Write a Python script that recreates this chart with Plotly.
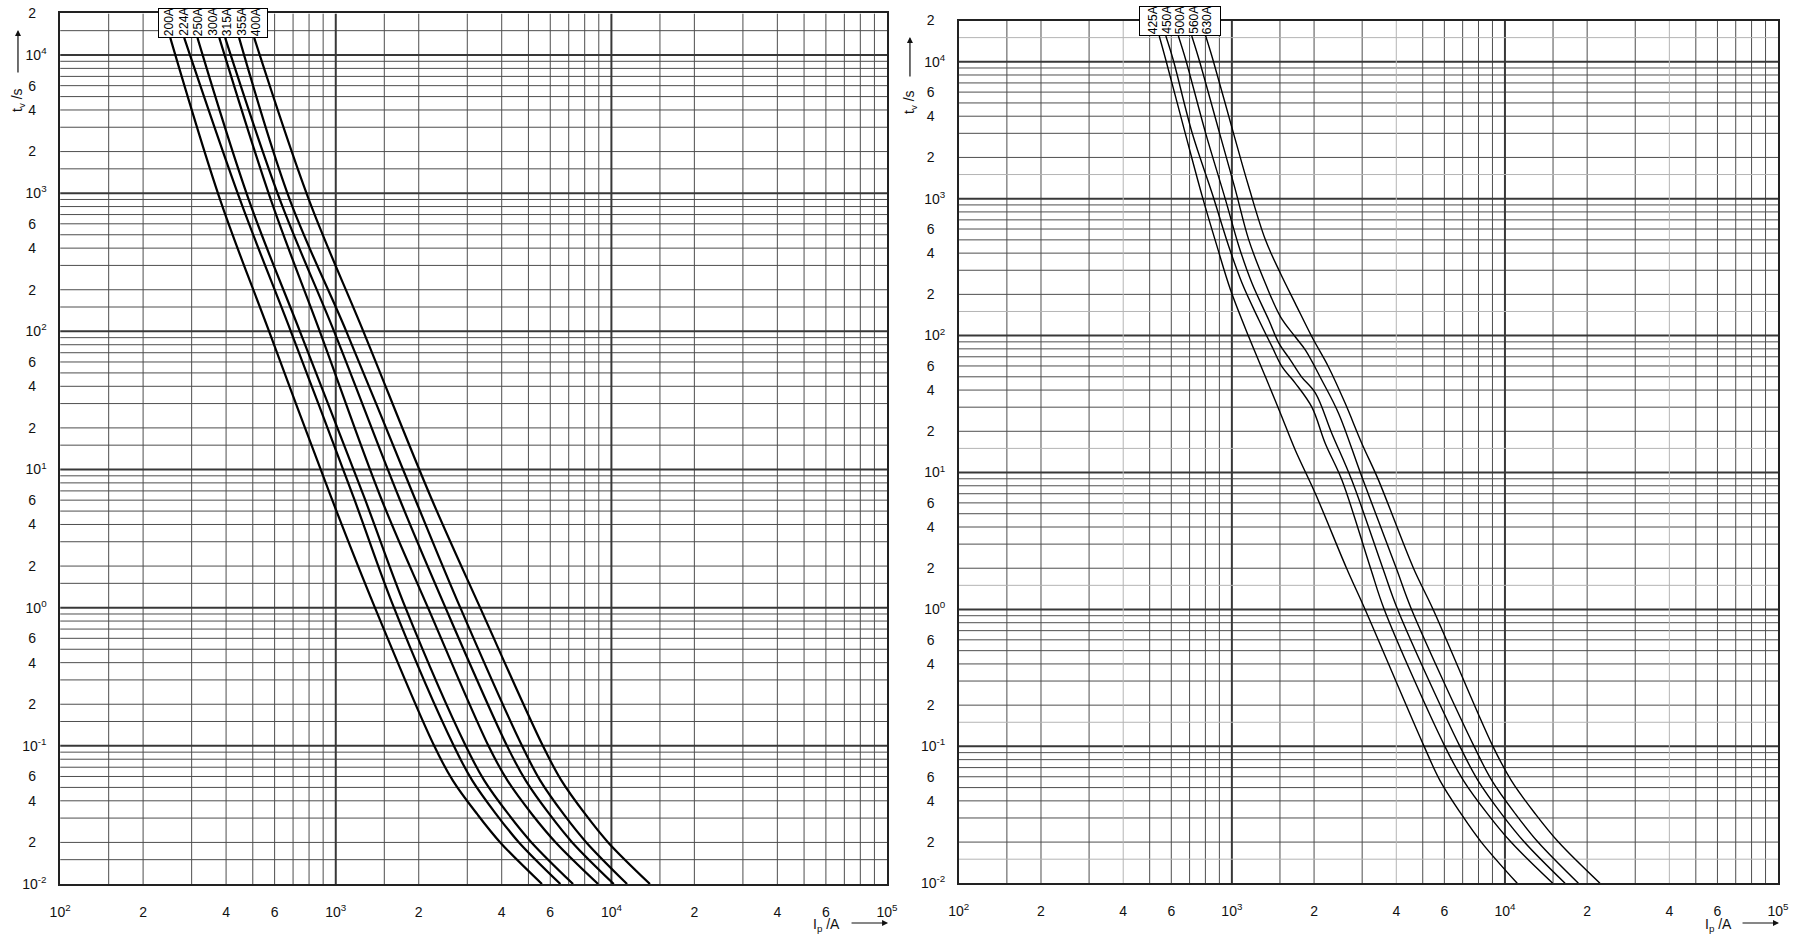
import numpy as np
import plotly.graph_objects as go

# ---------------- data ----------------
# Left chart: fuse ratings and time-current characteristics (I in A, t in s)
left_ratings = ["200A", "224A", "250A", "300A", "315A", "355A", "400A"]
left_t = [13300, 890, 100, 6.3, 1.0, 0.1, 0.056, 0.032, 0.02, 0.01]
left_I_200 = [251, 381, 573, 962, 1387, 2275, 2660, 3260, 3950, 5600]
left_I_224 = [282, 450, 687, 1160, 1626, 2680, 3130, 3820, 4620, 6530]
left_I_250 = [315, 484, 741, 1268, 1790, 2960, 3460, 4230, 5130, 7260]
left_I_300 = [378, 582, 875, 1455, 2160, 3580, 4200, 5150, 6280, 8950]
left_I_315 = [397, 628, 986, 1694, 2500, 4180, 4890, 5960, 7210, 10200]
left_I_355 = [446, 682, 1092, 1928, 2830, 4740, 5520, 6710, 8110, 11400]
left_I_400 = [506, 800, 1259, 2213, 3340, 5640, 6590, 8040, 9730, 13800]

# Right chart
right_ratings = ["425A", "450A", "500A", "560A", "630A"]
right_t_425 = [15400, 10300, 3000, 1030, 446, 215, 98, 50, 27, 14.6, 7.0, 2.0, 1.0, 0.1, 0.056, 0.032, 0.02, 0.01]
right_I_425 = [542, 573, 675, 780, 883, 989, 1153, 1327, 1507, 1706, 2023, 2630, 3076, 5058, 5790, 6920, 8190, 11090]
right_t_450 = [15400, 10300, 3000, 1090, 446, 240, 130, 83, 59, 45, 30, 16.3, 8.8, 2.0, 1.0, 0.1, 0.056, 0.032, 0.02, 0.01]
right_I_450 = [573, 610, 716, 847, 975, 1091, 1256, 1403, 1528, 1706, 1963, 2198, 2529, 3220, 3614, 6026, 7060, 8650, 10520, 14960]
right_t_500 = [15400, 10300, 3000, 980, 446, 240, 130, 88, 66, 50, 38, 19.3, 8.8, 2.0, 1.0, 0.1, 0.056, 0.032, 0.02, 0.01]
right_I_500 = [637, 678, 802, 948, 1062, 1186, 1365, 1486, 1641, 1799, 2023, 2323, 2748, 3570, 4046, 6839, 7980, 9730, 11780, 16600]
right_t_560 = [15400, 10300, 3000, 1160, 500, 240, 137, 98, 78, 47, 27, 9.3, 2.0, 1.0, 0.1, 0.056, 0.032, 0.02, 0.01]
right_I_560 = [713, 759, 902, 1030, 1153, 1327, 1507, 1706, 1862, 2138, 2460, 2992, 4000, 4550, 7709, 8970, 10940, 13210, 18580]
right_t_630 = [15400, 10300, 3000, 1220, 500, 284, 172, 98, 59, 32, 16.3, 8.8, 2.0, 1.0, 0.1, 0.056, 0.032, 0.02, 0.01]
right_I_630 = [802, 853, 1014, 1153, 1327, 1507, 1706, 1963, 2259, 2600, 2992, 3443, 4624, 5458, 9036, 10570, 12940, 15700, 22280]

# Tick labels
x_tick_vals = [100, 200, 400, 600, 1000, 2000, 4000, 6000, 10000, 20000, 40000, 60000, 100000]
x_tick_text = ["10<sup>2</sup>", "2", "4", "6", "10<sup>3</sup>", "2", "4", "6",
               "10<sup>4</sup>", "2", "4", "6", "10<sup>5</sup>"]
y_tick_vals = [0.01, 0.02, 0.04, 0.06, 0.1, 0.2, 0.4, 0.6, 1, 2, 4, 6, 10, 20, 40, 60,
               100, 200, 400, 600, 1000, 2000, 4000, 6000, 10000, 20000]
y_tick_text = ["10<sup>-2</sup>", "2", "4", "6", "10<sup>-1</sup>", "2", "4", "6",
               "10<sup>0</sup>", "2", "4", "6", "10<sup>1</sup>", "2", "4", "6",
               "10<sup>2</sup>", "2", "4", "6", "10<sup>3</sup>", "2", "4", "6",
               "10<sup>4</sup>", "2"]
grid_mantissas = [1, 1.5, 2, 3, 4, 5, 6, 7, 8, 9]

x_range = [100, 100000]
y_range = [0.01, 20000]

left_I = [left_I_200, left_I_224, left_I_250, left_I_300, left_I_315, left_I_355, left_I_400]
right_t = [right_t_425, right_t_450, right_t_500, right_t_560, right_t_630]
right_I = [right_I_425, right_I_450, right_I_500, right_I_560, right_I_630]

# ---------------- figure ----------------
# The photograph shows the window inside an 8px border, so window positions are
# mapped into the inner (W-16) x (H-16) area.
W, H, M = 1797, 939, 8
FONT = "Liberation Sans, Arial, DejaVu Sans, sans-serif"
fig = go.Figure()


def px(x):
    return (x - M) / (W - 2 * M)


def py(y):
    return 1 - (y - M) / (H - 2 * M)


def grid_values(lo, hi):
    vals = []
    e = int(np.floor(np.log10(lo)))
    while 10 ** e <= hi:
        for m in grid_mantissas:
            v = m * 10 ** e
            if lo < v < hi:
                vals.append(v)
        e += 1
    return vals


def add_grid(xa, ya, light_x_mant=(), light_y_mant=()):
    groups = {"normal": ([], []), "decade": ([], []), "light": ([], [])}

    def mant(v):
        return round(v / 10 ** np.floor(np.log10(v) + 1e-9), 3)

    for v in grid_values(*x_range):
        m = mant(v)
        g = "decade" if m == 1 else ("light" if m in light_x_mant else "normal")
        groups[g][0].extend([v, v, None])
        groups[g][1].extend([y_range[0], y_range[1], None])
    for v in grid_values(*y_range):
        m = mant(v)
        g = "decade" if m == 1 else ("light" if m in light_y_mant else "normal")
        groups[g][0].extend([x_range[0], x_range[1], None])
        groups[g][1].extend([v, v, None])
    styles = {"normal": ("#4e4e4e", 1), "decade": ("#383838", 2), "light": ("#b4b4b4", 1)}
    for g, (xs, ys) in groups.items():
        if not xs:
            continue
        c, w = styles[g]
        fig.add_trace(go.Scatter(x=xs, y=ys, mode="lines", xaxis=xa, yaxis=ya,
                                 line=dict(color=c, width=w), hoverinfo="skip",
                                 showlegend=False))


add_grid("x", "y")
add_grid("x2", "y2", light_x_mant=(4,), light_y_mant=(1.5,))

for name, Is in zip(left_ratings, left_I):
    fig.add_trace(go.Scatter(x=Is, y=left_t, mode="lines", name=name, xaxis="x", yaxis="y",
                             line=dict(color="black", width=2.2, shape="spline", smoothing=1.0),
                             showlegend=False))
for name, Is, ts in zip(right_ratings, right_I, right_t):
    fig.add_trace(go.Scatter(x=Is, y=ts, mode="lines", name=name, xaxis="x2", yaxis="y2",
                             line=dict(color="black", width=1.4, shape="spline", smoothing=1.0),
                             showlegend=False))

# single digits sit centred under the "10" of the decade labels
pad_y = [t if t.startswith("10") else t + "\u2007\u2009" for t in y_tick_text]

common_x = dict(type="log", range=[np.log10(x_range[0]), np.log10(x_range[1])],
                showgrid=False, zeroline=False, showline=True, mirror=True,
                linecolor="#222222", linewidth=1.5, ticks="",
                tickvals=x_tick_vals, ticktext=x_tick_text, ticklabelstandoff=14,
                tickfont=dict(family=FONT, size=14, color="#111111"))
common_y = dict(type="log", range=[np.log10(y_range[0]), np.log10(y_range[1])],
                showgrid=False, zeroline=False, showline=True, mirror=True,
                linecolor="#222222", linewidth=1.5, ticks="",
                tickvals=y_tick_vals, ticktext=pad_y, ticklabelstandoff=9,
                tickfont=dict(family=FONT, size=14, color="#111111"))

fig.update_layout(
    width=W, height=H,
    margin=dict(l=0, r=0, t=0, b=0),
    paper_bgcolor="white", plot_bgcolor="white",
    xaxis=dict(common_x, domain=[px(57.3), px(887)], anchor="y"),
    yaxis=dict(common_y, domain=[py(884), py(13.4)], anchor="x"),
    xaxis2=dict(common_x, domain=[px(959), px(1781)], anchor="y2"),
    yaxis2=dict(common_y, domain=[py(883.3), py(20.5)], anchor="x2"),
    showlegend=False,
)

# rating label boxes: a framed box, then one rotated label per curve
label_font = dict(family=FONT, size=12, color="black")
for ratings, curves_I, tops, xr, yr, box_w, spacing in [
    (left_ratings, left_I, [left_t[0]] * len(left_ratings), "x", "y", 108, 14.5),
    (right_ratings, right_I, [t[0] for t in right_t], "x2", "y2", 80, 13.5),
]:
    xc = float(np.mean([np.log10(c[0]) for c in curves_I]))
    yb = float(np.log10(min(tops)))
    fig.add_annotation(text=" ", x=xc, y=yb, xref=xr, yref=yr, width=box_w, height=28,
                       xanchor="center", yanchor="bottom", showarrow=False,
                       bgcolor="white", bordercolor="black", borderwidth=1, borderpad=0)
    n = len(ratings)
    for i, lab in enumerate(ratings):
        fig.add_annotation(text=lab, textangle=-90, x=xc, y=yb, xref=xr, yref=yr,
                           xshift=(i - (n - 1) / 2) * spacing, yshift=1,
                           xanchor="center", yanchor="bottom", showarrow=False,
                           font=label_font, borderpad=0)

# axis titles with arrows
title_font = dict(family=FONT, size=14, color="#111111")

for (xc, ytxt, yhead, ytail) in [(15, 100, 30, 74), (910, 102, 37, 78)]:
    fig.add_annotation(text="t<sub>v</sub> /s", textangle=-90, x=px(xc), y=py(ytxt),
                       xref="paper", yref="paper", showarrow=False, font=title_font,
                       xanchor="center", yanchor="middle")
    fig.add_annotation(text="", x=px(xc), y=py(yhead), ax=0, ay=ytail - yhead,
                       xref="paper", yref="paper", showarrow=True, arrowhead=2,
                       arrowsize=1, arrowwidth=1.2, arrowcolor="#111111")

for (xtxt, xhead, xtail, yc) in [(826, 888, 850, 925), (1721, 1782, 1744, 925)]:
    fig.add_annotation(text="I<sub>p</sub> /A", x=px(xtxt), y=py(yc),
                       xref="paper", yref="paper", showarrow=False, font=title_font,
                       xanchor="center", yanchor="middle")
    fig.add_annotation(text="", x=px(xhead), y=py(yc - 2), ax=xtail - xhead, ay=0,
                       xref="paper", yref="paper", showarrow=True, arrowhead=2,
                       arrowsize=1, arrowwidth=1.2, arrowcolor="#111111")

# drop the browser's default body margin so the page is exactly the window size
pin = ("document.documentElement.style.margin='0';document.documentElement.style.padding='0';"
       "document.documentElement.style.overflow='hidden';"
       "document.body.style.margin='0';document.body.style.padding='0';"
       "document.body.style.overflow='hidden';")
fig.write_html("out.html", config={"displayModeBar": False}, post_script=pin)
